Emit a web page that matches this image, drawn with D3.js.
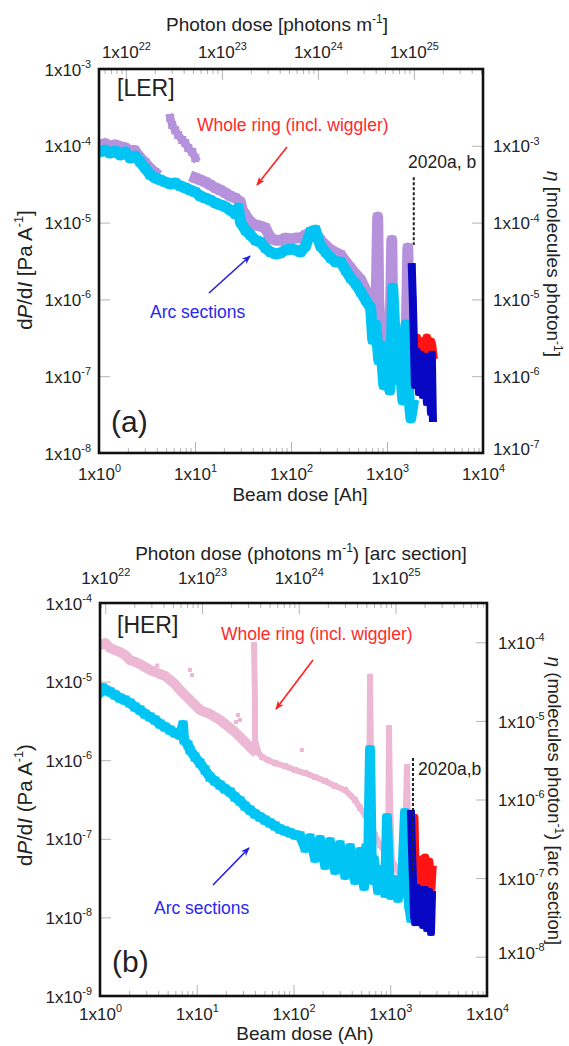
<!DOCTYPE html>
<html><head><meta charset="utf-8">
<script src="https://cdn.jsdelivr.net/npm/d3@7"></script>
<style>body{margin:0;background:#fff}svg text{font-family:"Liberation Sans",Arial,Helvetica,sans-serif;fill:#222}</style>
</head><body>
<svg id="c" width="569" height="1046"></svg>
<script>
// ---------------- data ----------------
const beamTicks = [1, 10, 100, 1000, 10000];
const photonTicks = [1e22, 1e23, 1e24, 1e25];
const lerLeftTicks = [1e-3, 1e-4, 1e-5, 1e-6, 1e-7, 1e-8];
const lerRightTicks = [1e-3, 1e-4, 1e-5, 1e-6, 1e-7];
const herLeftTicks = [1e-4, 1e-5, 1e-6, 1e-7, 1e-8, 1e-9];
const herRightTicks = [1e-4, 1e-5, 1e-6, 1e-7, 1e-8];

// LER [beam dose (Ah), dP/dI (Pa/A)]
const lerWholeEarly = [[1.00,1.02e-4],[1.16,1.09e-4],[1.30,9.9e-5],[1.47,1.05e-4],[1.66,9.9e-5],[1.87,9.6e-5],[2.11,8.8e-5],[2.38,8.8e-5],[2.68,7.15e-5],[3.03,6.15e-5],[3.41,5.14e-5],[3.85,4.56e-5]];
const lerWholeBurst = [[5.52,2.3e-4],[5.79,1.87e-4],[6.22,1.6e-4],[6.68,1.38e-4],[7.36,1.19e-4],[7.91,1.09e-4],[8.50,9.35e-5],[9.36,8.3e-5],[10.07,6.93e-5]];
const lerWholeMain = [[10.07,3.81e-5],[11.3,3.6e-5],[12.8,3.38e-5],[14.4,3.1e-5],[16.3,2.83e-5],[18.4,2.65e-5],[20.7,2.43e-5],[23.3,2.22e-5],[26.3,2.09e-5],[29.7,1.85e-5],[31.1,1.46e-5],[33.5,1.26e-5],[37.8,1.02e-5],[42.6,9.3e-6],[48.0,9.0e-6],[54.2,8.5e-6],[61.1,6.3e-6],[68.9,5.9e-6],[77.6,5.9e-6],[87.7,6.3e-6],[98.9,6.1e-6],[111,6.3e-6],[126,6.3e-6],[142,6.9e-6],[160,7.55e-6],[180,7.33e-6],[203,5.9e-6],[259,4.4e-6],[329,3.8e-6],[418,2.56e-6],[532,1.8e-6],[676,9.8e-7],[764,5.4e-7],[800,1.18e-5],[820,9.8e-7],[861,3.0e-7],[971,2.5e-7],[1069,2.2e-7],[1122,5.9e-6],[1148,4.0e-7],[1265,2.5e-7],[1393,2.2e-7],[1570,1.62e-7],[1648,4.67e-6],[1687,5.4e-7],[1730,1.9e-7]];
const lerArc = [[1.00,8.3e-5],[1.16,8.8e-5],[1.30,8.05e-5],[1.47,8.55e-5],[1.66,7.6e-5],[1.87,8.3e-5],[2.11,6.93e-5],[2.38,7.36e-5],[2.68,6.15e-5],[3.02,5.14e-5],[3.41,4.2e-5],[3.85,3.81e-5],[4.34,3.6e-5],[4.89,3.38e-5],[5.52,3.18e-5],[6.22,3.28e-5],[7.01,3.0e-5],[7.91,2.83e-5],[8.91,2.65e-5],[10.07,2.5e-5],[11.3,2.22e-5],[12.8,2.09e-5],[14.4,1.97e-5],[16.3,1.8e-5],[18.4,1.7e-5],[20.7,1.6e-5],[23.3,1.46e-5],[26.3,1.29e-5],[28.3,1.55e-5],[29.7,1.02e-5],[33.5,8.0e-6],[37.8,6.9e-6],[42.6,5.9e-6],[48.0,5.6e-6],[54.2,4.67e-6],[61.1,4.14e-6],[68.9,3.9e-6],[77.6,4.02e-6],[87.7,4.4e-6],[98.9,4.53e-6],[111,4.4e-6],[126,4.14e-6],[142,4.95e-6],[160,7.55e-6],[180,8.0e-6],[203,4.95e-6],[229,4.14e-6],[259,3.46e-6],[292,3.07e-6],[329,3.07e-6],[371,2.4e-6],[418,1.9e-6],[472,1.59e-6],[532,1.25e-6],[600,9.8e-7],[676,7.7e-7],[710,3.0e-7],[764,4.64e-7],[820,1.62e-7],[861,2.5e-7],[925,7.7e-8],[994,1.2e-7],[1069,6.6e-8],[1122,4.0e-7],[1148,1.41e-6],[1205,4.0e-7],[1265,1.62e-7],[1328,8.9e-8],[1393,1.04e-7],[1462,4.9e-8],[1532,7.7e-8],[1570,4.64e-7],[1607,1.62e-7],[1687,5.7e-8],[1770,2.86e-8],[1858,4.2e-8]];
const lerWhole2020 = [[1950,2.5e-7],[2046,3.14e-7],[2148,2.2e-7],[2249,2.79e-7],[2362,2.07e-7],[2477,2.79e-7],[2600,3.14e-7],[2729,2.2e-7],[2864,2.79e-7],[2931,2.5e-7],[3006,1.9e-7]];
const lerArc2020 = [[1813,2.64e-6],[1858,9.8e-7],[1903,3.0e-7],[1950,7.7e-8],[2046,2.07e-7],[2148,6.2e-8],[2249,1.9e-7],[2362,5.7e-8],[2477,1.78e-7],[2600,4.6e-8],[2729,1.62e-7],[2864,3.42e-8],[2931,1.9e-7],[3006,2.86e-8]];

// HER
const herWholeMain = [[1.00,2.92e-5],[1.13,3.10e-5],[1.27,2.68e-5],[1.43,2.52e-5],[1.61,2.38e-5],[1.81,2.18e-5],[2.04,1.88e-5],[2.30,1.78e-5],[2.59,1.67e-5],[2.92,1.53e-5],[3.29,1.41e-5],[3.70,1.33e-5],[4.17,1.25e-5],[4.70,1.18e-5],[5.29,1.05e-5],[5.96,9.3e-6],[6.71,7.8e-6],[7.56,6.76e-6],[8.52,5.83e-6],[9.59,5.04e-6],[10.8,4.35e-6],[12.2,4.1e-6],[13.7,3.87e-6],[15.4,3.55e-6],[17.4,3.25e-6],[19.6,2.89e-6],[22.1,2.57e-6],[24.8,2.29e-6],[28.0,1.97e-6],[31.5,1.71e-6],[35.5,1.47e-6],[38.1,1.35e-6]];
const herWholeOutliers = [[8.52,1.41e-5],[8.93,1.21e-5],[26.7,3.76e-6],[25.5,3.06e-6],[28.0,3.25e-6],[122,1.35e-6],[3.9,1.6e-5]];
const herWholeTail = [[39.1,2.92e-5],[40.0,5.83e-6],[40.0,1.81e-6],[43.0,1.27e-6],[47.2,1.10e-6],[54.5,1.0e-6],[64.4,9.2e-7],[81.7,8.4e-7],[104,7.5e-7],[132,6.87e-7],[167,6.1e-7],[212,5.43e-7],[269,4.7e-7],[341,4.18e-7],[432,3.12e-7],[487,2.47e-7],[548,2.01e-7],[603,1.64e-7],[618,1.15e-5],[632,1.0e-6],[648,1.37e-7],[696,1.12e-7],[783,8.34e-8],[883,6.8e-8],[948,5.7e-8],[971,2.57e-6],[994,3.12e-7],[1042,5.37e-8],[1147,4.25e-8],[1261,3.46e-8],[1387,2.99e-8],[1489,8.2e-7],[1525,1.29e-7],[1600,2.99e-8]];
const herArc = [[1.00,7.4e-6],[1.07,8.3e-6],[1.15,7.8e-6],[1.27,7.4e-6],[1.43,6.76e-6],[1.61,6.18e-6],[1.81,5.83e-6],[2.04,5.34e-6],[2.30,4.75e-6],[2.59,4.35e-6],[2.92,3.87e-6],[3.29,3.55e-6],[3.70,3.25e-6],[4.17,2.89e-6],[4.70,2.64e-6],[5.29,2.42e-6],[5.96,2.22e-6],[6.71,2.09e-6],[7.21,2.81e-6],[7.38,1.81e-6],[8.12,1.56e-6],[8.52,1.35e-6],[9.59,1.10e-6],[10.8,9.2e-7],[12.2,7.5e-7],[13.7,6.1e-7],[15.4,5.43e-7],[17.4,4.83e-7],[19.6,4.3e-7],[22.1,3.94e-7],[24.8,3.4e-7],[28.0,3.03e-7],[31.5,2.61e-7],[35.5,2.32e-7],[40.0,2.07e-7],[45.1,1.89e-7],[50.8,1.73e-7],[57.2,1.59e-7],[64.4,1.46e-7],[72.5,1.33e-7],[81.7,1.26e-7],[92.0,1.19e-7],[104,1.12e-7],[117,1.09e-7],[132,7.64e-8],[148,1.02e-7],[167,5.7e-8],[188,9.7e-8],[212,4.64e-8],[238,9.1e-8],[269,4.01e-8],[302,8.34e-8],[341,3.46e-8],[384,7.64e-8],[432,2.99e-8],[487,6.8e-8],[536,2.51e-8],[562,7.64e-8],[589,4.01e-8],[618,1.35e-6],[648,2.99e-8],[679,5.37e-8],[747,2.23e-8],[822,4.01e-8],[883,2.04e-8],[925,1.84e-7],[971,4.01e-8],[1018,1.93e-8],[1093,2.99e-8],[1202,1.77e-8],[1323,2.58e-8],[1420,2.13e-7],[1489,4.01e-8],[1562,1.44e-8],[1638,9.8e-9],[1678,2.99e-8]];
const herWhole2020 = [[1718,1.29e-7],[1760,1.84e-7],[1803,4.01e-8],[1890,5.07e-8],[1982,2.58e-8],[2079,5.37e-8],[2181,2.58e-8],[2286,5.7e-8],[2398,2.58e-8],[2515,5.07e-8],[2638,2.36e-8],[2701,4.01e-8]];
const herArc2020 = [[1638,2.07e-7],[1678,7.2e-8],[1718,2.99e-8],[1760,1.07e-8],[1803,8.7e-9],[1890,2.36e-8],[1982,8.7e-9],[2079,2.23e-8],[2181,8.0e-9],[2286,2.23e-8],[2398,7.3e-9],[2515,2.1e-8],[2638,6.5e-9],[2701,1.93e-8]];

// 2020 marker [beam dose, upper value, lower value]
const lerDash2020 = [1900, 3.9e-5, 5.1e-6];
const herDash2020 = [1718, 1.07e-6, 3.5e-8];

// ---------------- drawing ----------------
const C = {cyan:'#00c4f4', lav:'#b592db', pink:'#ecb8d4', red:'#ff1414', navy:'#0808c4', tred:'#ff2a2a', tblue:'#2828ee'};
const svg = d3.select('#c');
const defs = svg.append('defs');
function marker(id, col){
  defs.append('marker').attr('id',id).attr('viewBox','0 0 10 10').attr('refX',9).attr('refY',5)
    .attr('markerWidth',9).attr('markerHeight',9).attr('markerUnits','userSpaceOnUse').attr('orient','auto')
    .append('path').attr('d','M0,1 L10,5 L0,9 L3,5 Z').attr('fill',col);
}
marker('ar','#ff2020'); marker('ab','#2020e0');

function expLabel(t, d, size){
  const e = Math.round(Math.log10(d));
  t.text(null);
  t.append('tspan').text('1x10');
  t.append('tspan').attr('dy', -size*0.45).attr('font-size', size*0.64).text(e);
}

function panel(p){
  const g = svg.append('g');
  const x = d3.scaleLog().domain([1,1e4]).range([p.left,p.right]);
  const xp = d3.scaleLog().domain([p.pf, p.pf*1e4]).range([p.left,p.right]);
  const y = d3.scaleLog().domain(p.yDom).range([p.top,p.bottom]);
  const yr = d3.scaleLog().domain([p.yDom[0]*p.rf, p.yDom[1]*p.rf]).range([p.top,p.bottom]);
  const clip = 'clip'+p.id;
  defs.append('clipPath').attr('id',clip).append('rect').attr('x',p.left).attr('y',p.top).attr('width',p.right-p.left).attr('height',p.bottom-p.top);

  const isDecade = v => Math.abs(Math.log10(v)-Math.round(Math.log10(v)))<1e-6;
  const minorB = x.ticks().filter(v=>!isDecade(v));
  const minorP = xp.ticks().filter(v=>!isDecade(v)&&v>xp.domain()[0]&&v<xp.domain()[1]);
  const tickCol = '#b4b4b4';
  const fs = 17;

  g.append('g').attr('transform',`translate(0,${p.bottom})`).call(d3.axisBottom(x).tickValues(minorB).tickSize(-5).tickFormat(''))
    .call(a=>a.select('.domain').remove()).selectAll('line').attr('stroke',tickCol);
  g.append('g').attr('transform',`translate(0,${p.top})`).call(d3.axisTop(xp).tickValues(minorP).tickSize(-5).tickFormat(''))
    .call(a=>a.select('.domain').remove()).selectAll('line').attr('stroke',tickCol);

  const gb = g.append('g').attr('transform',`translate(0,${p.bottom})`).call(d3.axisBottom(x).tickValues(beamTicks).tickSize(-11));
  gb.select('.domain').remove(); gb.selectAll('line').attr('stroke',tickCol);
  gb.selectAll('text').attr('y',p.bLab-p.bottom).attr('dy',null).attr('font-size',fs).attr('fill','#222').each(function(d){expLabel(d3.select(this),d,fs);});
  const gt = g.append('g').attr('transform',`translate(0,${p.top})`).call(d3.axisTop(xp).tickValues(photonTicks).tickSize(-11));
  gt.select('.domain').remove(); gt.selectAll('line').attr('stroke',tickCol);
  gt.selectAll('text').attr('y',p.tLab-p.top).attr('dy',null).attr('font-size',fs).attr('fill','#222').each(function(d){expLabel(d3.select(this),d,fs);});
  const gl = g.append('g').attr('transform',`translate(${p.left},0)`).call(d3.axisLeft(y).tickValues(p.lt).tickSize(-11));
  gl.select('.domain').remove(); gl.selectAll('line').attr('stroke',tickCol);
  gl.selectAll('text').attr('x',p.lLab-p.left).attr('dy','0.36em').attr('font-size',fs).attr('fill','#222').each(function(d){expLabel(d3.select(this),d,fs);});
  const gr = g.append('g').attr('transform',`translate(${p.right},0)`).call(d3.axisRight(yr).tickValues(p.rt).tickSize(-11));
  gr.select('.domain').remove(); gr.selectAll('line').attr('stroke',tickCol);
  gr.selectAll('text').attr('x',p.rLab-p.right).attr('dy','0.36em').attr('font-size',fs).attr('fill','#222').each(function(d,i){expLabel(d3.select(this),d,fs); if(i===p.rt.length-1) d3.select(this).attr('dy','0.1em');});

  const gd = g.append('g').attr('clip-path',`url(#${clip})`);
  const line = d3.line().x(d=>x(d[0])).y(d=>y(d[1]));
  function series(data, col, w, sq){
    gd.append('path').datum(data).attr('d',line).attr('fill','none').attr('stroke',col).attr('stroke-width',w).attr('stroke-linejoin','round').attr('stroke-linecap','square');
    gd.append('g').selectAll('rect').data(data).join('rect')
      .attr('x',d=>x(d[0])-sq/2).attr('y',d=>y(d[1])-sq/2).attr('width',sq).attr('height',sq).attr('fill',col);
  }
  function dots(data, col, sq){
    gd.append('g').selectAll('rect').data(data).join('rect')
      .attr('x',d=>x(d[0])-sq/2).attr('y',d=>y(d[1])-sq/2).attr('width',sq).attr('height',sq).attr('fill',col);
  }
  p.draw(series, dots);
  g.append('line').attr('x1',x(p.dash[0])).attr('x2',x(p.dash[0])).attr('y1',y(p.dash[1])).attr('y2',y(p.dash[2]))
    .attr('stroke','#222').attr('stroke-width',2).attr('stroke-dasharray','3,2');

  g.append('rect').attr('x',p.left).attr('y',p.top).attr('width',p.right-p.left).attr('height',p.bottom-p.top)
    .attr('fill','none').attr('stroke','#111').attr('stroke-width',2.6);

  const tt = g.append('text').attr('x',p.tTitle[0]).attr('y',p.tTitle[1]).attr('text-anchor','middle').attr('font-size',19);
  tt.append('tspan').text(p.topTitle[0]); tt.append('tspan').attr('dy',-8).attr('font-size',12).text('-1'); tt.append('tspan').attr('dy',8).text(p.topTitle[1]);
  g.append('text').attr('x',p.bTitle[0]).attr('y',p.bTitle[1]).attr('text-anchor','middle').attr('font-size',19).text(p.botTitle);
  const lt = g.append('text').attr('transform',`translate(${p.lTitle[0]},${p.lTitle[1]}) rotate(-90)`).attr('text-anchor','middle').attr('font-size',p.lfs);
  lt.append('tspan').text('d'); lt.append('tspan').attr('font-style','italic').text('P'); lt.append('tspan').text('/d');
  lt.append('tspan').attr('font-style','italic').text('I'); lt.append('tspan').text(p.leftUnit[0]);
  lt.append('tspan').attr('dy',-9).attr('font-size',p.lfs*0.62).text('-1'); lt.append('tspan').attr('dy',9).text(p.leftUnit[1]);
  const rt = g.append('text').attr('transform',`translate(${p.rTitle[0]},${p.rTitle[1]}) rotate(90)`).attr('text-anchor','middle').attr('font-size',p.rfs);
  rt.append('tspan').attr('font-style','italic').text('η'); rt.append('tspan').text(p.rightUnit[0]);
  rt.append('tspan').attr('dy',-7).attr('font-size',12).text('-1'); rt.append('tspan').attr('dy',7).text(p.rightUnit[1]);

  g.append('text').attr('x',p.tag[0]).attr('y',p.tag[1]).attr('font-size',23).text(p.tagText);
  g.append('text').attr('x',p.pl[0]).attr('y',p.pl[1]).attr('font-size',30).text(p.plText);
  g.append('text').attr('x',p.wr[0]).attr('y',p.wr[1]).attr('font-size',17.5).style('fill',C.tred).text('Whole ring (incl. wiggler)');
  g.append('line').attr('x1',p.wra[0]).attr('y1',p.wra[1]).attr('x2',p.wra[2]).attr('y2',p.wra[3]).attr('stroke','#ff2020').attr('stroke-width',1.6).attr('marker-end','url(#ar)');
  g.append('text').attr('x',p.arc[0]).attr('y',p.arc[1]).attr('font-size',17.5).style('fill',C.tblue).text('Arc sections');
  g.append('line').attr('x1',p.arca[0]).attr('y1',p.arca[1]).attr('x2',p.arca[2]).attr('y2',p.arca[3]).attr('stroke','#2020e0').attr('stroke-width',1.6).attr('marker-end','url(#ab)');
  g.append('text').attr('x',p.yr[0]).attr('y',p.yr[1]).attr('font-size',17.5).text(p.yrText);
}

panel({id:'a', left:99, right:483, top:69, bottom:453, yDom:[1e-3,1e-8], rf:10, pf:5.25e21,
  lt:lerLeftTicks, rt:lerRightTicks, bLab:480, tLab:58, lLab:91, rLab:493,
  topTitle:['Photon dose [photons m',']'], tTitle:[277,31], botTitle:'Beam dose [Ah]', bTitle:[300,501],
  lTitle:[32,270], lfs:20.5, leftUnit:[' [Pa A',']'], rTitle:[547,264], rfs:19, rightUnit:[' [molecules photon',']'],
  tag:[117,96], tagText:'[LER]', pl:[111,432], plText:'(a)',
  wr:[197,131], wra:[287,147,257,185], arc:[150,318], arca:[209,293,250,256], yr:[408,168], yrText:'2020a, b',
  dash:lerDash2020,
  draw:(series,dots)=>{
    series(lerWholeEarly, C.lav, 10, 8);
    series(lerWholeBurst, C.lav, 8, 8);
    series(lerWholeMain, C.lav, 11, 9);
    series(lerArc, C.cyan, 11, 9);
    series(lerWhole2020, C.red, 9, 7);
    series(lerArc2020, C.navy, 8, 7);
  }});

panel({id:'b', left:100, right:487, top:603, bottom:996, yDom:[1e-4,1e-9], rf:Math.sqrt(10), pf:8.83e21,
  lt:herLeftTicks, rt:herRightTicks, bLab:1020, tLab:584, lLab:92, rLab:498,
  topTitle:['Photon dose (photons m',') [arc section]'], tTitle:[301,560], botTitle:'Beam dose (Ah)', bTitle:[305,1040],
  lTitle:[32,805], lfs:20.5, leftUnit:[' (Pa A',')'], rTitle:[548,801], rfs:18.5, rightUnit:[' (molecules photon',') [arc section]'],
  tag:[117,633], tagText:'[HER]', pl:[112,972], plText:'(b)',
  wr:[221,640], wra:[313,660,276,709], arc:[154,914], arca:[213,885,249,848], yr:[418,775], yrText:'2020a,b',
  dash:herDash2020,
  draw:(series,dots)=>{
    series(herWholeMain, C.pink, 10, 7);
    dots(herWholeOutliers, C.pink, 4);
    series(herWholeTail, C.pink, 6, 6);
    series(herArc, C.cyan, 10, 9);
    series(herWhole2020, C.red, 9, 7);
    series(herArc2020, C.navy, 8, 7);
  }});
</script>
</body></html>
